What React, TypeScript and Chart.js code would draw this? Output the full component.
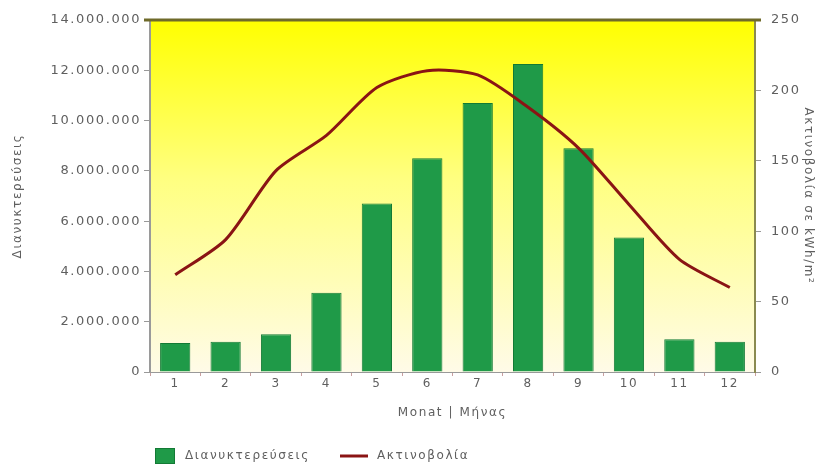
import React, { useEffect, useRef } from "react";
import { Chart, registerables } from "chart.js";

Chart.register(...registerables);

const months = ["1", "2", "3", "4", "5", "6", "7", "8", "9", "10", "11", "12"];
const overnightStays = [1150000, 1200000, 1500000, 3150000, 6700000, 8500000, 10700000, 12250000, 8900000, 5350000, 1300000, 1200000];
const radiation = [69, 94, 143, 168, 202, 214, 211, 188, 159, 119, 80, 60];
const barLabel = "Διανυκτερεύσεις";
const lineLabel = "Ακτινοβολία";
const leftTitle = "Διανυκτερεύσεις";
const rightTitle = "Ακτινοβολία σε kWh/m²";
const xTitle = "Monat | Μήνας";

const FONT = "'DejaVu Sans', 'Liberation Sans', sans-serif";
const SPACING = "1.6px";
const TEXT = "#5f5f5f";

const setSpacing = (chart: any) => {
  try {
    chart.ctx.letterSpacing = SPACING;
  } catch (e) {}
};

const bgPlugin = {
  id: "bgGradient",
  beforeUpdate: setSpacing,
  beforeLayout: setSpacing,
  beforeDraw(chart: any) {
    setSpacing(chart);
    const { ctx, chartArea } = chart;
    if (!chartArea) return;
    const g = ctx.createLinearGradient(0, chartArea.top, 0, chartArea.bottom);
    g.addColorStop(0, "#ffff00");
    g.addColorStop(0.45, "#ffff80");
    g.addColorStop(1, "#fffbe8");
    ctx.save();
    ctx.fillStyle = g;
    ctx.fillRect(chartArea.left, chartArea.top, chartArea.right - chartArea.left, chartArea.bottom - chartArea.top);
    ctx.restore();
  },
  afterDatasetsDraw(chart: any) {
    const { ctx, chartArea } = chart;
    ctx.save();
    ctx.strokeStyle = "#6f6a2a";
    ctx.lineWidth = 3;
    ctx.beginPath();
    ctx.moveTo(chartArea.left - 6, chartArea.top);
    ctx.lineTo(chartArea.right + 6, chartArea.top);
    ctx.stroke();
    ctx.restore();
  },
  afterDraw(chart: any) {
    const { ctx } = chart;
    const ds = chart.data.datasets;
    const bar = ds.find((d: any) => d.type === "bar");
    const line = ds.find((d: any) => d.type === "line");
    const y = 456;
    ctx.save();
    ctx.letterSpacing = SPACING;
    ctx.font = `12px ${FONT}`;
    ctx.textBaseline = "middle";
    ctx.textAlign = "left";
    ctx.fillStyle = bar.backgroundColor;
    ctx.fillRect(155, y - 8, 20, 16);
    ctx.strokeStyle = bar.borderColor;
    ctx.lineWidth = 1;
    ctx.strokeRect(155.5, y - 7.5, 19, 15);
    ctx.fillStyle = TEXT;
    ctx.fillText(bar.label, 185, y);
    ctx.strokeStyle = line.borderColor;
    ctx.lineWidth = 3;
    ctx.beginPath();
    ctx.moveTo(340, y);
    ctx.lineTo(368, y);
    ctx.stroke();
    ctx.fillStyle = TEXT;
    ctx.fillText(line.label, 377, y);
    ctx.restore();
  },
};

const fmt = (v: number) => {
  const s = Math.round(v).toString();
  return s.replace(/\B(?=(\d{3})+(?!\d))/g, ".");
};

export default function App() {
  const ref = useRef<HTMLCanvasElement>(null);
  useEffect(() => {
    if (!ref.current) return;
    const chart = new Chart(ref.current, {
      type: "bar",
      data: {
        labels: months,
        datasets: [
          {
            type: "line",
            label: lineLabel,
            data: radiation,
            yAxisID: "y1",
            borderColor: "#8a1414",
            backgroundColor: "#8a1414",
            borderWidth: 3,
            pointRadius: 0,
            tension: 0.25,
            order: 0,
          } as any,
          {
            type: "bar",
            label: barLabel,
            data: overnightStays,
            yAxisID: "y",
            backgroundColor: "#1f9a48",
            borderColor: "#137a35",
            borderWidth: 1,
            barPercentage: 0.6,
            categoryPercentage: 1,
            order: 1,
          } as any,
        ],
      },
      options: {
        animation: false,
        responsive: false,
        maintainAspectRatio: false,
        layout: { padding: { top: 20, left: 0, right: 0, bottom: 40 } },
        plugins: {
          tooltip: { enabled: false },
          legend: { display: false },
        },
        scales: {
          x: {
            offset: true,
            grid: { display: true, drawOnChartArea: false, offset: true, tickLength: 4, color: "#c9a0a0" },
            border: { display: true, color: "#999", width: 1 },
            ticks: { font: { family: FONT, size: 12 }, color: TEXT, padding: 1 },
            title: { display: true, text: xTitle, font: { family: FONT, size: 12 }, color: TEXT, padding: { top: 0, bottom: 8 } },
            afterFit(scale: any) {
              scale.height = 56;
            },
          },
          y: {
            position: "left",
            min: 0,
            max: 14000000,
            ticks: { stepSize: 2000000, callback: (v: any) => fmt(v), font: { family: FONT, size: 13 }, color: TEXT, padding: 3 },
            grid: { drawOnChartArea: false, tickLength: 6, color: "#999" },
            border: { display: true, color: "#9a9a9a", width: 2 },
            title: { display: true, text: leftTitle, font: { family: FONT, size: 12 }, color: TEXT, padding: { top: 11, bottom: 0 } },
            afterFit(scale: any) {
              scale.width = 150;
            },
          },
          y1: {
            position: "right",
            min: 0,
            max: 250,
            ticks: { stepSize: 50, font: { family: FONT, size: 13 }, color: TEXT, padding: 10 },
            grid: { drawOnChartArea: false, tickLength: 6, color: "#999" },
            border: { display: true, color: "#8a8a50", width: 2 },
            title: { display: true, text: rightTitle, font: { family: FONT, size: 12 }, color: TEXT, padding: { top: 13, bottom: 0 } },
            afterFit(scale: any) {
              scale.width = 73;
            },
          },
        },
      },
      plugins: [bgPlugin],
    });
    return () => chart.destroy();
  }, []);
  return (
    <div style={{ position: "fixed", left: 0, top: 0, width: 828, height: 468, background: "#fff" }}>
      <canvas ref={ref} width={828} height={468} style={{ width: 828, height: 468 }} />
    </div>
  );
}
